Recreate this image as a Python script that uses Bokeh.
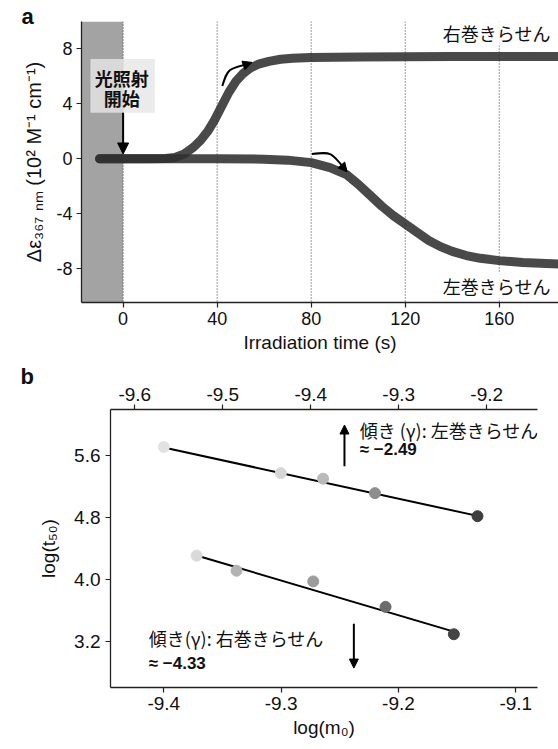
from bokeh.plotting import figure
from bokeh.models import (Range1d, LinearAxis, FixedTicker, PrintfTickFormatter, BoxAnnotation,
                          Span, Label, Arrow, NormalHead)
from bokeh.layouts import column, row
from bokeh.embed import file_html
from bokeh.resources import INLINE

# ---------------- data: panel a ----------------
time_right = [-10, 0, 10, 18, 22, 26, 30, 33, 36, 39, 42, 45, 48, 51, 54, 58, 62, 67, 72, 80, 100, 140, 186]
de_right = [0, 0, 0, 0.02, 0.1, 0.35, 0.85, 1.35, 2.0, 2.85, 3.85, 4.85, 5.65, 6.2, 6.6, 6.92, 7.1, 7.25,
            7.33, 7.38, 7.42, 7.45, 7.45]
time_left = [-10, 0, 20, 40, 60, 70, 80, 88, 95, 100, 105, 110, 115, 120, 125, 130, 135, 140, 146, 152,
             160, 170, 186]
de_left = [0, 0, 0, 0, -0.03, -0.1, -0.28, -0.65, -1.15, -1.85, -2.65, -3.45, -4.15, -4.75, -5.35, -5.95,
           -6.4, -6.75, -7.05, -7.25, -7.42, -7.55, -7.67]
time_ticks = [0, 40, 80, 120, 160]
de_ticks = [-8, -4, 0, 4, 8]

# ---------------- data: panel b ----------------
logm_left = [-9.567, -9.434, -9.386, -9.327, -9.2105]     # top axis (左巻き)
logt_left = [5.707, 5.371, 5.299, 5.113, 4.816]
fit_left_x = [-9.567, -9.2105]
fit_left_y = [5.70, 4.82]
colors_left = ["#e2e2e2", "#d6d6d6", "#b9b9b9", "#8e8e8e", "#3e3e3e"]

logm_right = [-9.372, -9.338, -9.2726, -9.211, -9.1528]   # bottom axis (右巻き)
logt_right = [4.308, 4.114, 3.976, 3.649, 3.296]
fit_right_x = [-9.372, -9.1528]
fit_right_y = [4.31, 3.33]
colors_right = ["#d9d9d9", "#b3b3b3", "#9b9b9b", "#6c6c6c", "#454545"]

top_ticks = [-9.6, -9.5, -9.4, -9.3, -9.2]
bottom_ticks = [-9.4, -9.3, -9.2, -9.1]
logt_ticks = [3.2, 4.0, 4.8, 5.6]

SANS = "Liberation Sans"
CJK = "Noto Sans CJK JP"
AX = "#222222"

def style_axis(ax, size="18px"):
    ax.axis_line_color = AX
    ax.axis_line_width = 1.3
    ax.major_tick_line_color = AX
    ax.major_tick_line_width = 1.2
    ax.major_tick_out = 5
    ax.major_tick_in = 0
    ax.minor_tick_line_color = None
    ax.major_label_text_font = SANS
    ax.major_label_text_font_size = size
    ax.major_label_text_color = "#111111"
    ax.axis_label_text_font = SANS
    ax.axis_label_text_font_style = "normal"
    ax.axis_label_text_font_size = "19px"
    ax.axis_label_text_color = "#111111"

def style_title(p, offset, standoff):
    p.title.align = "left"
    p.title.offset = offset
    p.title.standoff = standoff
    p.title.text_font = SANS
    p.title.text_font_size = "22px"
    p.title.text_font_style = "bold"
    p.title.text_color = "#111111"

# ================= panel a =================
pa = figure(width=558, height=358, output_backend="svg", toolbar_location=None, title="a",
            x_range=Range1d(-17.7, 185.2), y_range=Range1d(-10.47, 10.0),
            min_border_left=81, min_border_right=0, min_border_top=21, min_border_bottom=56)
style_title(pa, -60, -15)
pa.outline_line_color = None
pa.grid.visible = False
pa.xaxis.ticker = FixedTicker(ticks=time_ticks)
pa.yaxis.ticker = FixedTicker(ticks=de_ticks)
pa.xaxis.formatter = PrintfTickFormatter(format="%d")
pa.yaxis.formatter = PrintfTickFormatter(format="%d")
pa.xaxis.axis_label = "Irradiation time (s)"
pa.yaxis.axis_label = "Δε₃₆₇ ₙₘ (10² M⁻¹ cm⁻¹)"
for ax in pa.axis:
    style_axis(ax)
pa.yaxis.axis_label_text_font_size = "20px"
pa.xaxis.major_label_standoff = 4
pa.xaxis.axis_label_standoff = 4
pa.yaxis.major_label_standoff = 4
pa.yaxis.axis_label_standoff = 8

pa.add_layout(BoxAnnotation(right=time_ticks[0], fill_color="#a3a3a3", fill_alpha=1.0,
                            line_color=None, level="underlay"))
for t in time_ticks:
    pa.add_layout(Span(location=t, dimension="height", line_color="#3a3a3a", line_width=1,
                       line_dash="1 2", level="underlay"))

pa.line(time_left, de_left, line_width=9, line_color="#303030", line_alpha=0.88,
        line_cap="round", line_join="round")
pa.line(time_right, de_right, line_width=9, line_color="#303030", line_alpha=0.88,
        line_cap="round", line_join="round")

# curved arrows along the curves
pa.bezier(x0=[42.2], y0=[5.3], x1=[54.0], y1=[6.95], cx0=[44.5], cy0=[6.55], cx1=[44.5], cy1=[6.55],
          line_color="black", line_width=2)
pa.add_layout(Arrow(end=NormalHead(size=9, fill_color="black", line_color="black"),
                    x_start=52.0, y_start=6.85, x_end=54.8, y_end=7.02, line_width=0, line_color="black"))
pa.bezier(x0=[80.3], y0=[0.34], x1=[94.5], y1=[-0.8], cx0=[88.6], cy0=[0.5], cx1=[88.6], cy1=[0.5],
          line_color="black", line_width=2)
pa.add_layout(Arrow(end=NormalHead(size=9, fill_color="black", line_color="black"),
                    x_start=93.3, y_start=-0.55, x_end=95.3, y_end=-0.95, line_width=0, line_color="black"))

# start of irradiation box
pa.add_layout(BoxAnnotation(left=-13.9, right=13.5, bottom=3.35, top=7.27, fill_color="#e6e6e6",
                            fill_alpha=0.8, line_color=None))
pa.add_layout(Label(x=-0.6, y=5.91, text="光照射", text_align="center", text_baseline="middle",
                    text_font=CJK, text_font_size="18px", text_color="#111111", text_font_style="bold"))
pa.add_layout(Label(x=-0.6, y=4.46, text="開始", text_align="center", text_baseline="middle",
                    text_font=CJK, text_font_size="18px", text_color="#111111", text_font_style="bold"))
pa.add_layout(Arrow(end=NormalHead(size=11, fill_color="black", line_color="black"),
                    x_start=0, y_start=3.35, x_end=0, y_end=0.35, line_width=2, line_color="black"))

pa.add_layout(Label(x=136.0, y=9.19, text="右巻きらせん", text_align="left", text_baseline="middle",
                    text_font=CJK, text_font_size="18px", text_color="#111111",
                    background_fill_color="white", background_fill_alpha=0.85))
pa.add_layout(Label(x=136.0, y=-9.24, text="左巻きらせん", text_align="left", text_baseline="middle",
                    text_font=CJK, text_font_size="18px", text_color="#111111",
                    background_fill_color="white", background_fill_alpha=0.85))

# ================= panel b =================
pb = figure(width=558, height=391, output_backend="svg", toolbar_location=None, title="b",
            x_range=Range1d(-9.4454, -9.0815), y_range=Range1d(2.61, 6.19),
            min_border_left=110, min_border_right=21, min_border_top=51, min_border_bottom=62)
style_title(pb, -90, -9)
pb.outline_line_color = None
pb.grid.visible = False
pb.extra_x_ranges = {"top": Range1d(-9.6276, -9.1423)}
top_axis = LinearAxis(x_range_name="top")
pb.add_layout(top_axis, "above")
pb.xaxis.ticker = FixedTicker(ticks=bottom_ticks)
top_axis.ticker = FixedTicker(ticks=top_ticks)
pb.yaxis.ticker = FixedTicker(ticks=logt_ticks)
for ax in pb.axis:
    style_axis(ax, "19px")
    ax.formatter = PrintfTickFormatter(format="%.1f")
pb.below[0].axis_label = "log(m₀)"
pb.left[0].axis_label = "log(t₅₀)"
pb.below[0].major_label_standoff = 4
pb.below[0].axis_label_standoff = 4
top_axis.major_label_standoff = 4
pb.yaxis.major_label_standoff = 5
pb.yaxis.axis_label_standoff = 12

pb.line(fit_left_x, fit_left_y, x_range_name="top", line_color="black", line_width=2)
pb.scatter(logm_left, logt_left, x_range_name="top", size=11, fill_color=colors_left,
           line_color=colors_left)
pb.line(fit_right_x, fit_right_y, line_color="black", line_width=2)
pb.scatter(logm_right, logt_right, size=11, fill_color=colors_right, line_color=colors_right)

pb.add_layout(Arrow(end=NormalHead(size=9, fill_color="black", line_color="black"),
                    x_start=-9.246, y_start=5.458, x_end=-9.246, y_end=5.99, line_width=2,
                    line_color="black"))
pb.add_layout(Label(x=-9.233, y=5.923, text="傾き (γ): 左巻きらせん", text_baseline="middle",
                    text_font=CJK, text_font_size="18px", text_color="#111111"))
pb.add_layout(Label(x=-9.233, y=5.674, text="≈ −2.49", text_baseline="middle",
                    text_font=SANS, text_font_size="17px", text_font_style="bold", text_color="#111111"))

pb.add_layout(Arrow(end=NormalHead(size=9, fill_color="black", line_color="black"),
                    x_start=-9.238, y_start=3.43, x_end=-9.238, y_end=2.86, line_width=2,
                    line_color="black"))
pb.add_layout(Label(x=-9.4128, y=3.252, text="傾き(γ): 右巻きらせん", text_baseline="middle",
                    text_font=CJK, text_font_size="18px", text_color="#111111"))
pb.add_layout(Label(x=-9.4128, y=2.913, text="≈ −4.33", text_baseline="middle",
                    text_font=SANS, text_font_size="17px", text_font_style="bold", text_color="#111111"))

layout = column(row(pa), row(pb), spacing=0)
open("out.html", "w").write(file_html(layout, INLINE))
